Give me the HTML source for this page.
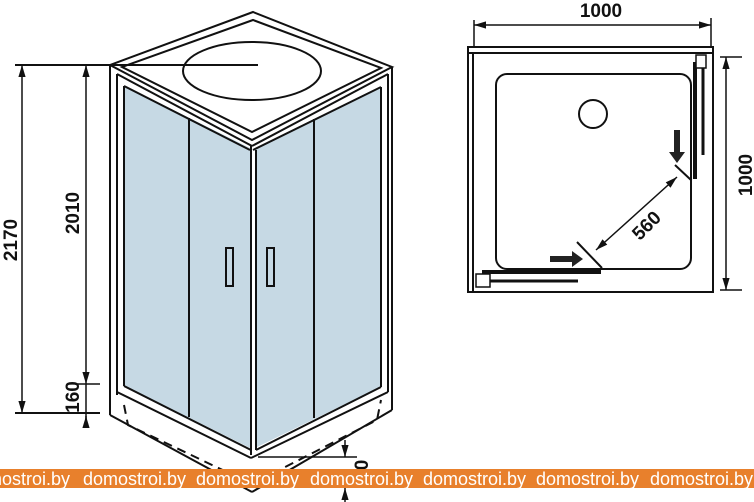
<!DOCTYPE html>
<html><head><meta charset="utf-8"><style>
html,body{margin:0;padding:0;background:#fff;width:754px;height:502px;overflow:hidden}
svg{display:block}
.t{font-family:"Liberation Sans",sans-serif;font-weight:bold;font-size:19px;fill:#111}
.w{font-family:"Liberation Sans",sans-serif;font-size:18px;fill:#fff}
</style></head><body>
<svg width="754" height="502" viewBox="0 0 754 502" xmlns="http://www.w3.org/2000/svg">
<defs>
<marker id="a" viewBox="0 0 10 10" refX="10" refY="5" markerWidth="8" markerHeight="8" orient="auto-start-reverse"><path d="M0,2 L10,5 L0,8 z" fill="#111"/></marker>
</defs>
<g stroke="#111" fill="none" stroke-width="2">
<polygon points="125,86 250,148 250,448 125,386" fill="#c6d9e4" stroke="none"/>
<polygon points="255,148 380,87 380,387 255,448" fill="#c6d9e4" stroke="none"/>
<polygon points="253,12 110,65 252,140 392,67"/>
<polygon points="253,20 122,67 252,132 381,68"/>
<ellipse cx="252" cy="71" rx="69" ry="29"/>
<line x1="15" y1="65" x2="258" y2="65"/>
<line x1="117" y1="74" x2="252" y2="146"/>
<line x1="124" y1="86" x2="250" y2="150"/>
<line x1="252" y1="146" x2="388" y2="74"/>
<line x1="253" y1="150" x2="381" y2="87"/>
<line x1="110" y1="65" x2="110" y2="415"/>
<line x1="117" y1="74" x2="117" y2="395"/>
<line x1="124" y1="86" x2="124" y2="386"/>
<line x1="392" y1="67" x2="392" y2="410"/>
<line x1="388" y1="74" x2="388" y2="392"/>
<line x1="381" y1="87" x2="381" y2="387"/>
<line x1="251" y1="146" x2="251" y2="455"/>
<line x1="256" y1="150" x2="256" y2="450"/>
<line x1="189" y1="118" x2="189" y2="417"/>
<line x1="314" y1="119" x2="314" y2="418"/>
<line x1="124" y1="386" x2="251" y2="450"/>
<line x1="117" y1="392" x2="251" y2="458"/>
<line x1="256" y1="450" x2="381" y2="387"/>
<line x1="251" y1="458" x2="388" y2="392"/>
<line x1="110" y1="415" x2="252" y2="492"/>
<line x1="392" y1="410" x2="252" y2="492"/>
<polyline points="124,405 128,425 252,484 377,420 381,400" stroke-dasharray="9,6"/>
<rect x="226" y="248" width="7" height="38" stroke-width="2"/>
<rect x="267" y="248" width="7" height="38" stroke-width="2"/>
<line x1="15" y1="413" x2="100" y2="413"/>
<line x1="22" y1="65" x2="22" y2="413" stroke-width="1.5" marker-start="url(#a)" marker-end="url(#a)"/>
<line x1="86" y1="65" x2="86" y2="384" stroke-width="1.5" marker-start="url(#a)" marker-end="url(#a)"/>
<line x1="75" y1="384" x2="100" y2="384" stroke-width="1.5"/>
<line x1="86" y1="384" x2="86" y2="428" stroke-width="1.5"/>
<line x1="86" y1="428" x2="86" y2="416" stroke-width="1.5" marker-end="url(#a)"/>
<line x1="258" y1="457" x2="357" y2="457" stroke-width="1.5"/>
<line x1="345" y1="440" x2="345" y2="457" stroke-width="1.5" marker-end="url(#a)"/>
<line x1="345" y1="502" x2="345" y2="488" stroke-width="1.5" marker-end="url(#a)"/>
</g>
<text class="t" transform="translate(17,240) rotate(-90)" text-anchor="middle">2170</text>
<text class="t" transform="translate(79,213) rotate(-90)" text-anchor="middle">2010</text>
<text class="t" transform="translate(79,397) rotate(-90)" text-anchor="middle">160</text>
<text class="t" transform="translate(368,465) rotate(-90)" text-anchor="middle">0</text>

<g stroke="#111" fill="none" stroke-width="2">
<rect x="468" y="47" width="245" height="245"/>
<line x1="473" y1="53" x2="473" y2="292"/>
<line x1="468" y1="53" x2="713" y2="53"/>
<rect x="496" y="74" width="195" height="195" rx="11"/>
<circle cx="593" cy="114" r="14"/>
<line x1="474" y1="20" x2="474" y2="47" stroke-width="1.5"/>
<line x1="711" y1="18" x2="711" y2="47" stroke-width="1.5"/>
<line x1="474" y1="25" x2="711" y2="25" stroke-width="1.5" marker-start="url(#a)" marker-end="url(#a)"/>
<line x1="720" y1="57" x2="742" y2="57" stroke-width="1.5"/>
<line x1="720" y1="290" x2="742" y2="290" stroke-width="1.5"/>
<line x1="726" y1="57" x2="726" y2="290" stroke-width="1.5" marker-start="url(#a)" marker-end="url(#a)"/>
<line x1="695" y1="62" x2="695" y2="179" stroke-width="4"/>
<line x1="703" y1="62" x2="703" y2="155" stroke-width="3"/>
<rect x="696" y="55" width="10" height="13" stroke-width="1.5" fill="#fff"/>
<line x1="482" y1="272" x2="601" y2="272" stroke-width="4"/>
<line x1="490" y1="281" x2="578" y2="281" stroke-width="3"/>
<rect x="476" y="274" width="14" height="13" stroke-width="1.5" fill="#fff"/>
<line x1="675" y1="165" x2="691" y2="180"/>
<line x1="577" y1="242" x2="602" y2="268"/>
<line x1="677" y1="177" x2="596" y2="250" stroke-width="1.5" marker-start="url(#a)" marker-end="url(#a)"/>
</g>
<path d="M674,130 h6 v22 h5 l-8,11 l-8,-11 h5 z" fill="#222"/>
<path d="M550,256 h22 v-5 l11,8 l-11,8 v-5 h-22 z" fill="#222"/>
<text class="t" x="601" y="17" text-anchor="middle">1000</text>
<text class="t" transform="translate(752,175) rotate(-90)" text-anchor="middle">1000</text>
<text class="t" transform="translate(651,230) rotate(-45)" text-anchor="middle">560</text>

<rect x="0" y="469" width="754" height="19" fill="#e8802c"/>
<text class="w" y="485"><tspan x="-33">domostroi.by</tspan><tspan x="83">domostroi.by</tspan><tspan x="196">domostroi.by</tspan><tspan x="310">domostroi.by</tspan><tspan x="423">domostroi.by</tspan><tspan x="536">domostroi.by</tspan><tspan x="650">domostroi.by</tspan></text>
</svg>
</body></html>
